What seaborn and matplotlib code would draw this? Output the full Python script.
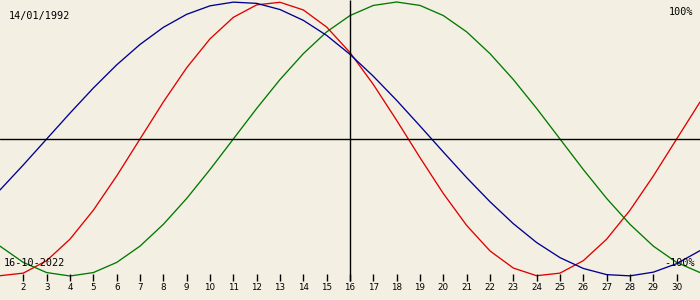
import matplotlib
matplotlib.use("Agg")
import matplotlib.pyplot as plt
import matplotlib.transforms as mtransforms
import seaborn as sns
import pandas as pd

# Biorhythm values per day of the month (fraction of 100%)
days = list(range(1, 32))
physical = [-0.998, -0.979, -0.888, -0.731, -0.520, -0.270, 0.000, 0.270, 0.520, 0.731,
            0.888, 0.979, 0.998, 0.942, 0.817, 0.631, 0.398, 0.136, -0.136, -0.398,
            -0.631, -0.817, -0.942, -0.998, -0.979, -0.888, -0.731, -0.520, -0.270, 0.000,
            0.270]
emotional = [-0.782, -0.901, -0.975, -1.000, -0.975, -0.901, -0.782, -0.623, -0.434, -0.223,
             0.000, 0.223, 0.434, 0.623, 0.782, 0.901, 0.975, 1.000, 0.975, 0.901,
             0.782, 0.623, 0.434, 0.223, 0.000, -0.223, -0.434, -0.623, -0.782, -0.901,
             -0.975]
intellectual = [-0.372, -0.189, 0.000, 0.189, 0.372, 0.541, 0.690, 0.815, 0.910, 0.972,
                0.999, 0.990, 0.945, 0.866, 0.756, 0.618, 0.458, 0.282, 0.095, -0.095,
                -0.282, -0.458, -0.618, -0.756, -0.866, -0.945, -0.990, -0.999, -0.972, -0.910,
                -0.815]
tick_days = list(range(2, 31))
current_day = 16
birth_label = "14/01/1992"
date_label = "16-10-2022"
top_label = "100%"
bottom_label = "-100%"

df = pd.DataFrame({
    "day": days * 3,
    "value": physical + emotional + intellectual,
    "cycle": ["physical"] * len(days) + ["emotional"] * len(days) + ["intellectual"] * len(days),
})

bg = "#f3efe3"
sns.set_theme(style="white")
plt.rcParams["font.family"] = ["DejaVu Sans Mono", "DejaVu Sans"]

fig = plt.figure(figsize=(7, 3), dpi=100, facecolor=bg)
ax = fig.add_axes([0, 0, 1, 1])
ax.set_facecolor(bg)

palette = {"physical": "#e00000", "emotional": "#007a00", "intellectual": "#000090"}
sns.lineplot(data=df, x="day", y="value", hue="cycle", palette=palette,
             linewidth=0.95, legend=False, ax=ax)

ax.set_xlim(1, 31)
ax.set_ylim(-1.1752, 1.0146)
ax.axis("off")

# zero line and current-day line
ax.axhline(0, color="black", linewidth=1.0)
trans = mtransforms.blended_transform_factory(ax.transData, ax.transAxes)
ax.vlines([current_day], 0.065, 1.0, transform=trans, color="black", linewidth=1.0)

# day ticks
ax.vlines(tick_days, 0.063, 0.087, transform=trans, color="black", linewidth=1.0)
for d in tick_days:
    ax.text(d, 0.04, str(d), transform=trans, ha="center", va="center",
            fontsize=6.3, color="black", family=["DejaVu Sans"])

# corner labels
ax.text(0.013, 0.945, birth_label, transform=ax.transAxes, ha="left", va="center",
        fontsize=7.3, color="black")
ax.text(0.99, 0.96, top_label, transform=ax.transAxes, ha="right", va="center",
        fontsize=7.3, color="black")
ax.text(0.005, 0.125, date_label, transform=ax.transAxes, ha="left", va="center",
        fontsize=7.3, color="black")
ax.text(0.993, 0.125, bottom_label, transform=ax.transAxes, ha="right", va="center",
        fontsize=7.3, color="black")

fig.savefig("out.png", dpi=100, facecolor=bg)
